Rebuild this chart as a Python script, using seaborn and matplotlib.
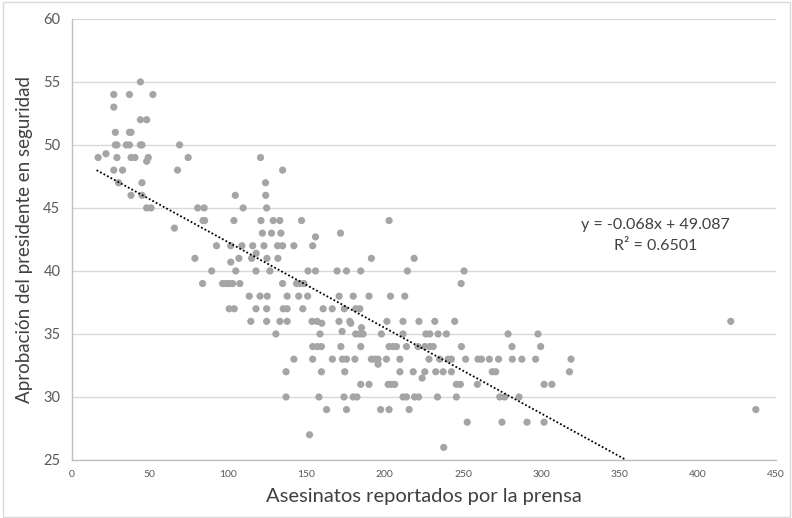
import numpy as np
import pandas as pd
import matplotlib
matplotlib.use("Agg")
import matplotlib.pyplot as plt
import seaborn as sns
from matplotlib.patches import Rectangle

# Datos: asesinatos reportados (x) vs aprobación (y)
asesinatos = [
    44,
    27, 37, 52,
    27,
    44, 48,
    28, 37, 38,
    28, 29, 35, 37, 44, 45, 69,
    22,
    17, 29, 38, 40.5, 49, 74.5, 120.7,
    48,
    27, 32.6, 67.7, 134.8,
    30, 45, 123.9,
    38, 45, 104.6, 124,
    48, 50.8, 80.6, 84.7, 109.6, 124.6,
    84, 85, 103.7, 121, 128.8, 133, 146.9, 202.8,
    65.7,
    121.9, 127.7, 133.7, 171.8,
    155.8,
    92.6, 101.7, 108.8, 115.7, 122.9, 131.6, 134.8, 142, 154,
    117.9,
    78.8, 106.9, 115, 124.8, 131.8, 191.5, 218.8,
    101.7,
    89.5, 104.9, 117.8, 126.7, 151, 155.8, 169.6, 175.6, 184.7, 214.5, 250.7,
    83.7, 96.5, 98.6, 100.7, 102.9, 107.5, 134.8, 143.7, 145.8, 148.4, 248.8,
    113.5, 120.4, 125, 137.7, 145.1, 150.8, 170.9, 179.9, 190, 203.7, 212.8,
    100.7, 103.9, 117.8, 124.6, 135.2, 137.7, 147.7, 160.7, 166.5, 174.2, 181.5, 184.1,
    114.5, 124.6, 133.1, 137.7, 153.6, 156.8, 170.8, 177.7, 201.4, 211.7, 221.9, 232, 244.7, 421,
    159.8, 178.3,
    185.2,
    172.8,
    130.5, 158.7, 181.5, 184.1, 186.2, 197.9, 211.7, 226.3, 228.8, 234.1, 239.4, 278.8, 297.9,
    154, 157, 159.6, 172, 184.7, 202.8, 205.4, 207.5, 213.9, 221.3, 225.6, 228.8, 231, 249, 281.3, 299.6,
    142, 154, 166.6, 173, 175.6, 181, 191.5, 193.7, 195.8, 201.1, 209.7, 228.3, 235.1, 240.5, 242.6,
    251.7, 259.6, 261.8, 266.8, 272.7, 281.5, 287.6, 296.4, 319,
    195.8,
    137, 159.6, 174.5, 209.7, 218.2, 225.6, 232.6, 237.3, 242.6, 268.7, 270.9, 318,
    223.9,
    184.7, 190, 202.2, 204.4, 206.4, 245.8, 248.3, 259.2, 301.8, 306.8,
    137, 158, 174, 179.9, 182.3, 211.7, 213.9, 219.1, 221.7, 233.7, 245.8, 273.5, 276.6, 285.8,
    162.9, 175.6, 197.4, 202.8, 215.6, 437,
    252.7, 274.9, 290.9, 301.8,
    152,
    237.7,
]
aprobacion = [
    55,
    54, 54, 54,
    53,
    52, 52,
    51, 51, 51,
    50, 50, 50, 50, 50, 50, 50,
    49.3,
    49, 49, 49, 49, 49, 49, 49,
    48.7,
    48, 48, 48, 48,
    47, 47, 47,
    46, 46, 46, 46,
    45, 45, 45, 45, 45, 45,
    44, 44, 44, 44, 44, 44, 44, 44,
    43.4,
    43, 43, 43, 43,
    42.7,
    42, 42, 42, 42, 42, 42, 42, 42, 42,
    41.4,
    41, 41, 41, 41, 41, 41, 41,
    40.7,
    40, 40, 40, 40, 40, 40, 40, 40, 40, 40, 40,
    39, 39, 39, 39, 39, 39, 39, 39, 39, 39, 39,
    38, 38, 38, 38, 38, 38, 38, 38, 38, 38, 38,
    37, 37, 37, 37, 37, 37, 37, 37, 37, 37, 37, 37,
    36, 36, 36, 36, 36, 36, 36, 36, 36, 36, 36, 36, 36, 36,
    35.85, 35.85,
    35.5,
    35.2,
    35, 35, 35, 35, 35, 35, 35, 35, 35, 35, 35, 35, 35,
    34, 34, 34, 34, 34, 34, 34, 34, 34, 34, 34, 34, 34, 34, 34, 34,
    33, 33, 33, 33, 33, 33, 33, 33, 33, 33, 33, 33, 33, 33, 33,
    33, 33, 33, 33, 33, 33, 33, 33, 33,
    32.6,
    32, 32, 32, 32, 32, 32, 32, 32, 32, 32, 32, 32,
    31.5,
    31, 31, 31, 31, 31, 31, 31, 31, 31, 31,
    30, 30, 30, 30, 30, 30, 30, 30, 30, 30, 30, 30, 30, 30,
    29, 29, 29, 29, 29, 29,
    28, 28, 28, 28,
    27,
    26,
]

# Línea de tendencia (Excel)
pendiente = -0.068
intercepto = 49.087
tendencia_x = [16, 354.2]
ecuacion = "y = -0.068x + 49.087"
r2_texto = "R² = 0.6501"

df = pd.DataFrame({"asesinatos": asesinatos, "aprobacion": aprobacion})

sns.set_style("white")
plt.rcParams["font.family"] = ["Lato", "DejaVu Sans"]

fig = plt.figure(figsize=(7.92, 5.18), dpi=100)
ax = fig.add_axes([0.0903, 0.112, 0.8897, 0.8515])

sns.scatterplot(data=df, x="asesinatos", y="aprobacion", ax=ax,
                color="#A5A5A5", s=27, edgecolor="none", zorder=3)

tx = np.array(tendencia_x)
ax.plot(tx, pendiente * tx + intercepto, color="black", linestyle=(0, (1, 1.2)),
        linewidth=1.3, zorder=4)

ax.text(373, 43.65, ecuacion, ha="center", va="center", fontsize=11.5, color="#404040")
ax.text(373, 42.0, r2_texto, ha="center", va="center", fontsize=11.5, color="#404040")

ax.set_xlim(0, 450)
ax.set_ylim(25, 60)
ax.set_xticks(range(0, 451, 50))
ax.set_yticks(range(25, 61, 5))
ax.yaxis.grid(True, color="#D9D9D9", linewidth=1)
ax.xaxis.grid(False)
ax.set_axisbelow(True)

for lado in ["top", "right"]:
    ax.spines[lado].set_visible(False)
for lado in ["left", "bottom"]:
    ax.spines[lado].set_color("#BFBFBF")
    ax.spines[lado].set_linewidth(1)

ax.tick_params(axis="x", colors="#595959", labelsize=7.5, length=4, width=1,
               color="#BFBFBF", direction="out", pad=3)
ax.tick_params(axis="y", colors="#595959", labelsize=10.5, length=4, width=1,
               color="#BFBFBF", direction="out", pad=4)

ax.set_xlabel("Asesinatos reportados por la prensa", fontsize=14.5, color="#404040", labelpad=7)
ax.set_ylabel("Aprobación del presidente en seguridad", fontsize=13.5, color="#404040", labelpad=7)

# Borde del área del gráfico
fig.patches.append(Rectangle((0.004, 0.002), 0.994, 0.994, transform=fig.transFigure,
                             fill=False, edgecolor="#D9D9D9", linewidth=1))

fig.savefig("out.png", dpi=100)
